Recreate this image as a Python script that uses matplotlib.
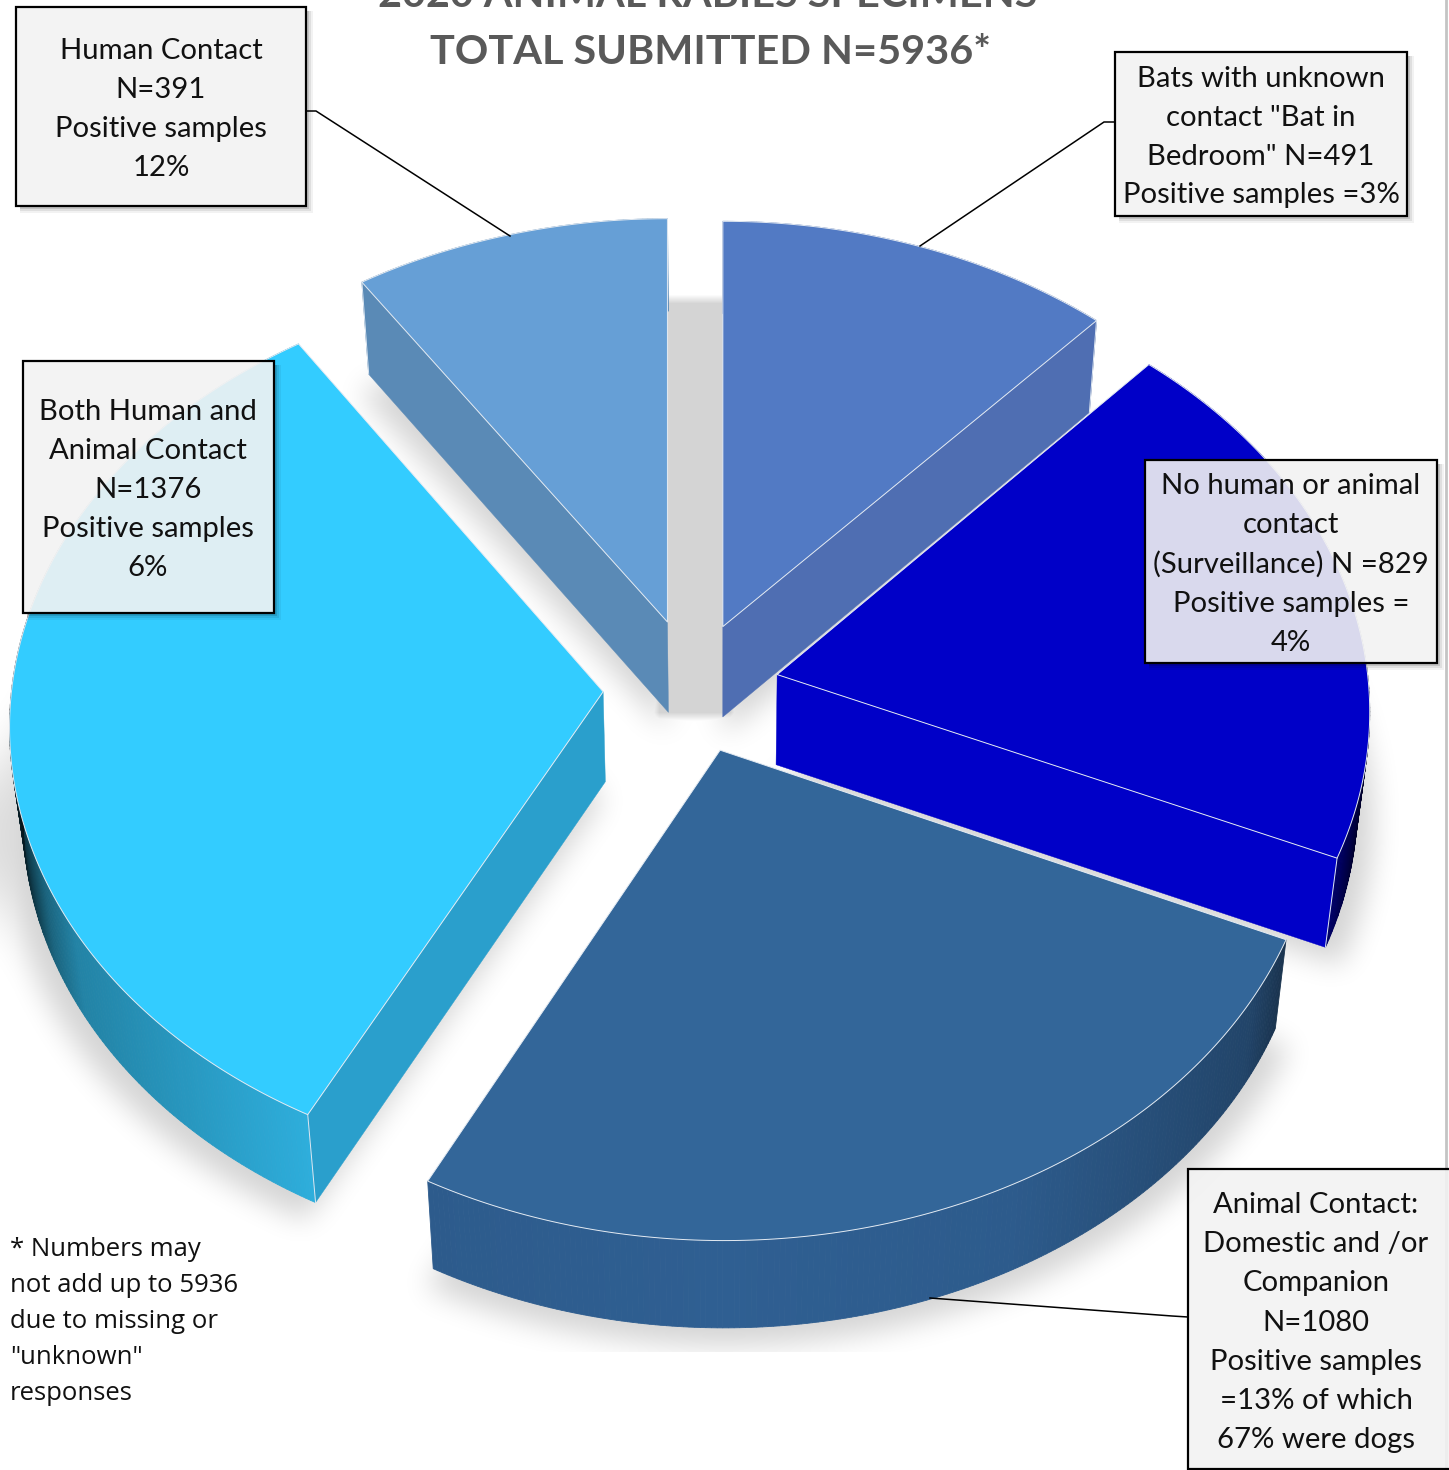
"""Exploded 3D pie of animal rabies specimens, drawn on a pixel-sized axes."""
import numpy as np
import matplotlib
matplotlib.use("Agg")
import matplotlib.pyplot as plt
from matplotlib.patches import Rectangle
from matplotlib.path import Path

# Data: clockwise from 12 o'clock
NAMES = ["Bats", "No contact", "Animal contact", "Both contact", "Human contact"]
COUNTS = [491, 829, 1080, 1376, 391]

TITLE_LINES = ["2020 ANIMAL RABIES SPECIMENS", "TOTAL SUBMITTED N=5936*"]
LABEL_BATS = ["Bats with unknown", "contact \"Bat in", "Bedroom\" N=491", "Positive samples =3%"]
LABEL_NONE = ["No human or animal", "contact", "(Surveillance) N =829", "Positive samples =", "4%"]
LABEL_ANIMAL = ["Animal Contact:", "Domestic and /or", "Companion", "N=1080",
                "Positive samples", "=13% of which", "67% were dogs"]
LABEL_BOTH = ["Both Human and", "Animal Contact", "N=1376", "Positive samples", "6%"]
LABEL_HUMAN = ["Human Contact", "N=391", "Positive samples", "12%"]
FOOTNOTE = ["* Numbers may", "not add up to 5936", "due to missing or", "\"unknown\"", "responses"]

# Styles
TOP_COLORS = ["#527ac4", "#0000c8", "#336699", "#33ccff", "#669fd6"]
WALL_COLORS = ["#4f6eb2", "#0000c8", "#2f5f92", "#2a9fcc", "#5a8ab6"]
RIM_COLORS = ["#4f6eb2", "#0000c8", "#2f5f92", "#30b6e6", "#5a8ab6"]
DRAW_ORDER = [4, 0, 2, 1, 3]
# which radial wall of each slice faces the viewer (None = hidden)
WALL_EDGE = [-1, -1, None, 0, 0]
# small per-slice nudges of the rim, the source's perspective isn't quite this simple
RIM_NUDGE = [(0, 0), (-2, -4), (4, 2), (1, -6), (0, 2)]
APEX_NUDGE = [(0, 0), (0, 0), (0, 0), (0, 0), (2, -3)]

W, H = 1449, 1470
CX, CY = 691, 688
RX, RY, PERSP = 592, 443, 0.093
EXPLODE = 88


def ring(theta):
    """Rim of a slice relative to its apex, with simple perspective."""
    xs, ys = np.sin(theta), -np.cos(theta)
    s = 1 / (1 - PERSP * ys)
    return RX * xs * s, RY * ys * s


def lower(x, y):
    """Matching point on the underside of the pie."""
    return x - 0.019 * (x - 720), y + 92 - 0.005 * (y - 300)


def box_blur(a, r):
    for axis in (0, 1):
        c = np.cumsum(np.insert(a, 0, 0, axis=axis), axis=axis)
        hi = np.clip(np.arange(a.shape[axis]) + r + 1, 0, a.shape[axis])
        lo = np.clip(np.arange(a.shape[axis]) - r, 0, a.shape[axis])
        a = (np.take(c, hi, axis=axis) - np.take(c, lo, axis=axis)) / (hi - lo).reshape(
            (-1, 1) if axis == 0 else (1, -1))
    return a


fig = plt.figure(figsize=(W / 100, H / 100), dpi=100, facecolor="white")
ax = fig.add_axes([0, 0, 1, 1])
ax.set_xlim(0, W)
ax.set_ylim(H, 0)
ax.axis("off")

# slice outlines
edges = np.cumsum([0] + COUNTS) / sum(COUNTS) * 2 * np.pi
slices = []
for i in range(len(COUNTS)):
    mid = (edges[i] + edges[i + 1]) / 2
    ax0 = CX + EXPLODE * np.sin(mid) + APEX_NUDGE[i][0]
    ay0 = CY - EXPLODE * np.cos(mid) * RY / RX + APEX_NUDGE[i][1]
    th = np.linspace(edges[i], edges[i + 1], max(int(np.degrees(edges[i + 1] - edges[i])), 2) * 2)
    rx, ry = ring(th)
    slices.append((ax0, ay0, th, ax0 + rx + RIM_NUDGE[i][0], ay0 + ry + RIM_NUDGE[i][1]))

# soft shadow below everything
gx, gy = np.meshgrid(np.arange(W) + 0.5, np.arange(H) + 0.5)
pts = np.column_stack([gx.ravel(), gy.ravel()])
mask = np.zeros((H, W))
for ax0, ay0, th, px, py in slices:
    bx, by = lower(np.r_[ax0, px], np.r_[ay0, py])
    sx = 720 + (bx - 720) * 1.025
    mask[Path(np.column_stack([sx, by + 18])).contains_points(pts).reshape(H, W)] = 1
blur = box_blur(box_blur(box_blur(mask, 13), 13), 13)
# the back gap between the two rear slices reads as solid shadow
hx, bx2 = slices[4][0], slices[0][0]
gap = np.zeros((H, W))
gap[(gx > hx - 12) & (gx < bx2 + 12) & (gy > slices[0][4][0] + 78) & (gy < lower(bx2, slices[0][1])[1])] = 1
blur = np.maximum(blur, box_blur(gap, 4))
blur[gy > 1352] = 0
shadow = np.zeros((H, W, 4))
shadow[..., 3] = blur * 0.17
ax.imshow(shadow, extent=(0, W, H, 0), zorder=1, aspect="auto", interpolation="bilinear")

z = 2
for i in DRAW_ORDER:
    ax0, ay0, th, px, py = slices[i]
    bx, by = lower(px, py)
    bax, bay = lower(ax0, ay0)
    # outer wall, darkened toward the sides
    base = np.array(matplotlib.colors.to_rgb(RIM_COLORS[i]))
    for k in range(len(th) - 1):
        shade = np.interp(abs(np.sin(th[k])), [0, 0.45, 0.85, 0.91, 0.97, 1.0],
                          [1, 0.96, 0.72, 0.55, 0.25, 0.08])
        ax.fill([px[k], px[k + 1], bx[k + 1], bx[k]], [py[k], py[k + 1], by[k + 1], by[k]],
                color=base * shade, lw=0.6, zorder=z)
    z += 1
    # radial wall
    k = WALL_EDGE[i]
    if k is not None:
        ax.fill([ax0, px[k], bx[k], bax], [ay0, py[k], by[k], bay],
                color=WALL_COLORS[i], lw=0.3, zorder=z)
        ax.plot([px[k], bx[k]], [py[k], by[k]], color="#dfe8f2", lw=0.7, zorder=z)
    z += 1
    # top face
    ax.fill(np.r_[ax0, px], np.r_[ay0, py], facecolor=TOP_COLORS[i], edgecolor="#e4ebf3",
            lw=0.7, joinstyle="round", zorder=z)
    z += 1

# right hand border of the source picture
ax.plot([1445.5, 1445.5], [0, H], color="#c4c4c4", lw=2, zorder=z)
z += 1

# leaders
for xs, ys in [([306, 316, 510], [111, 111, 236]),
               ([1115, 1104, 920], [122, 122, 246]),
               ([1188, 1172, 930], [1317, 1316, 1298])]:
    ax.plot(xs, ys, color="black", lw=1.1, zorder=z, solid_joinstyle="miter")
z += 1


def callout(x0, y0, x1, y1, lines, tx, ty, step):
    global z
    # drop shadow only outside the box, its fill is see-through
    for off, a in [(7, 0.05), (5, 0.08), (3, 0.12)]:
        ax.add_patch(Rectangle((x1, y0 + 4), off, y1 - y0 + off - 4, facecolor="black",
                               edgecolor="none", alpha=a, zorder=z))
        ax.add_patch(Rectangle((x0 + 4, y1), x1 - x0 - 4, off, facecolor="black",
                               edgecolor="none", alpha=a, zorder=z))
    ax.add_patch(Rectangle((x0, y0), x1 - x0, y1 - y0, facecolor=(0.95, 0.95, 0.95, 0.9),
                           edgecolor="black", lw=1.6, zorder=z + 1))
    for n, line in enumerate(lines):
        ax.text(tx, ty + 2 + n * step, line, ha="center", va="center", family="Lato",
                fontsize=21.1, color="#111111", zorder=z + 2)
    z += 3


callout(16, 7, 306, 206, LABEL_HUMAN, 161, 49, 39)
callout(1115, 52, 1407, 216, LABEL_BATS, 1261, 77, 38.8)
callout(23, 361, 274, 613, LABEL_BOTH, 148, 410, 39)
callout(1145, 460, 1437, 663, LABEL_NONE, 1291, 484, 39.2)
callout(1188, 1169, 1452, 1469, LABEL_ANIMAL, 1316, 1203, 39.2)

# title
for line, base_y, tx in zip(TITLE_LINES, [7, 64], [708, 711]):
    ax.text(tx, base_y, line, ha="center", va="baseline", family="Lato", weight="bold",
            fontsize=29.8, color="#595959", zorder=z)

# footnote
for n, line in enumerate(FOOTNOTE):
    ax.text(10, 1249 + n * 36, line, ha="left", va="center", family="Open Sans",
            fontsize=18.5, color="#111111", zorder=z)

fig.savefig("out.png", dpi=100, facecolor="white")
